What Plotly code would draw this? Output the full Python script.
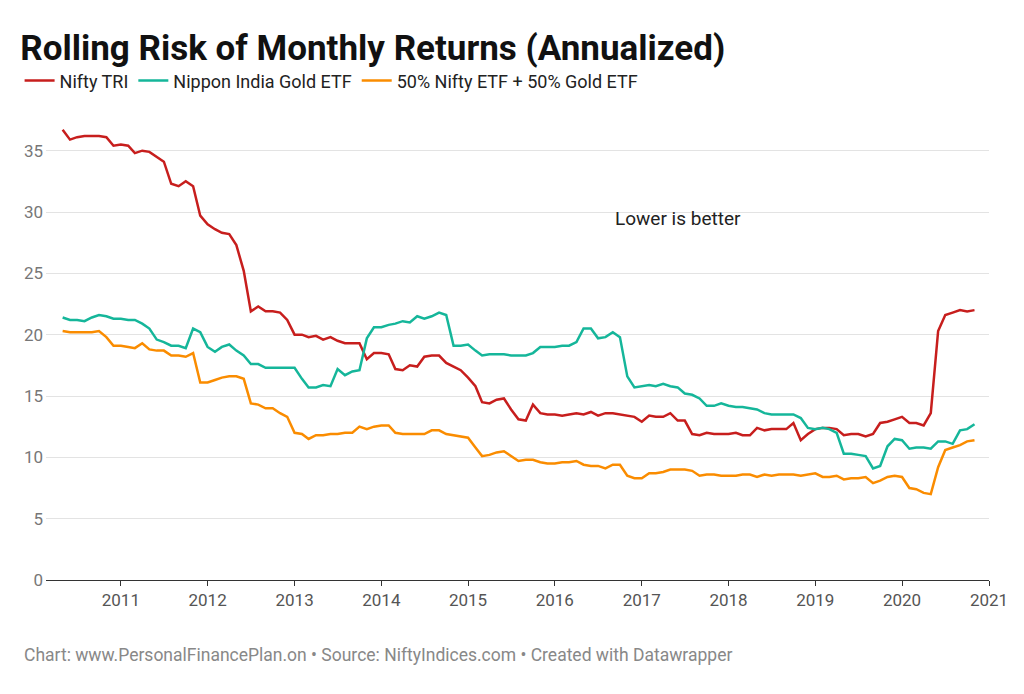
import pandas as pd
import plotly.graph_objects as go

months = pd.date_range("2010-05-01", "2020-11-01", freq="MS")

nifty_tri = [
    36.7, 35.9, 36.1, 36.2, 36.2, 36.2, 36.1, 35.4,
    35.5, 35.4, 34.8, 35.0, 34.9, 34.5, 34.1, 32.3, 32.1, 32.5, 32.1, 29.7,
    29.0, 28.6, 28.3, 28.2, 27.3, 25.2, 21.9, 22.3, 21.9, 21.9, 21.8, 21.2,
    20.0, 20.0, 19.8, 19.9, 19.6, 19.8, 19.5, 19.3, 19.3, 19.3, 18.0, 18.5,
    18.5, 18.4, 17.2, 17.1, 17.5, 17.4, 18.2, 18.3, 18.3, 17.7, 17.4, 17.1,
    16.5, 15.8, 14.5, 14.4, 14.7, 14.8, 13.9, 13.1, 13.0, 14.3, 13.6, 13.5,
    13.5, 13.4, 13.5, 13.6, 13.5, 13.7, 13.4, 13.6, 13.6, 13.5, 13.4, 13.3,
    12.9, 13.4, 13.3, 13.3, 13.6, 13.0, 13.0, 11.9, 11.8, 12.0, 11.9, 11.9,
    11.9, 12.0, 11.8, 11.8, 12.4, 12.2, 12.3, 12.3, 12.3, 12.8, 11.4, 11.9,
    12.3, 12.4, 12.4, 12.3, 11.8, 11.9, 11.9, 11.7, 11.9, 12.8, 12.9, 13.1,
    13.3, 12.8, 12.8, 12.6, 13.6, 20.3, 21.6, 21.8, 22.0, 21.9, 22.0,
]

gold_etf = [
    21.4, 21.2, 21.2, 21.1, 21.4, 21.6, 21.5, 21.3,
    21.3, 21.2, 21.2, 20.9, 20.5, 19.6, 19.4, 19.1, 19.1, 18.9, 20.5, 20.2,
    19.0, 18.6, 19.0, 19.2, 18.7, 18.3, 17.6, 17.6, 17.3, 17.3, 17.3, 17.3,
    17.3, 16.4, 15.7, 15.7, 15.9, 15.8, 17.2, 16.7, 17.0, 17.1, 19.7, 20.6,
    20.6, 20.8, 20.9, 21.1, 21.0, 21.5, 21.3, 21.5, 21.8, 21.6, 19.1, 19.1,
    19.2, 18.7, 18.3, 18.4, 18.4, 18.4, 18.3, 18.3, 18.3, 18.5, 19.0, 19.0,
    19.0, 19.1, 19.1, 19.4, 20.5, 20.5, 19.7, 19.8, 20.2, 19.8, 16.6, 15.7,
    15.8, 15.9, 15.8, 16.0, 15.8, 15.7, 15.2, 15.1, 14.8, 14.2, 14.2, 14.4,
    14.2, 14.1, 14.1, 14.0, 13.9, 13.6, 13.5, 13.5, 13.5, 13.5, 13.2, 12.4,
    12.3, 12.4, 12.3, 12.0, 10.3, 10.3, 10.2, 10.1, 9.1, 9.3, 10.9, 11.5,
    11.4, 10.7, 10.8, 10.8, 10.7, 11.3, 11.3, 11.1, 12.2, 12.3, 12.7,
]

mix_50_50 = [
    20.3, 20.2, 20.2, 20.2, 20.2, 20.3, 19.8, 19.1,
    19.1, 19.0, 18.9, 19.3, 18.8, 18.7, 18.7, 18.3, 18.3, 18.2, 18.5, 16.1,
    16.1, 16.3, 16.5, 16.6, 16.6, 16.4, 14.4, 14.3, 14.0, 14.0, 13.6, 13.3,
    12.0, 11.9, 11.5, 11.8, 11.8, 11.9, 11.9, 12.0, 12.0, 12.5, 12.3, 12.5,
    12.6, 12.6, 12.0, 11.9, 11.9, 11.9, 11.9, 12.2, 12.2, 11.9, 11.8, 11.7,
    11.6, 10.8, 10.1, 10.2, 10.4, 10.5, 10.1, 9.7, 9.8, 9.8, 9.6, 9.5,
    9.5, 9.6, 9.6, 9.7, 9.4, 9.3, 9.3, 9.1, 9.4, 9.4, 8.5, 8.3,
    8.3, 8.7, 8.7, 8.8, 9.0, 9.0, 9.0, 8.9, 8.5, 8.6, 8.6, 8.5,
    8.5, 8.5, 8.6, 8.6, 8.4, 8.6, 8.5, 8.6, 8.6, 8.6, 8.5, 8.6,
    8.7, 8.4, 8.4, 8.5, 8.2, 8.3, 8.3, 8.4, 7.9, 8.1, 8.4, 8.5,
    8.4, 7.5, 7.4, 7.1, 7.0, 9.2, 10.6, 10.8, 11.0, 11.3, 11.4,
]

series = [
    ("Nifty TRI", nifty_tri, "#c71e1d"),
    ("Nippon India Gold ETF", gold_etf, "#15b69a"),
    ("50% Nifty ETF + 50% Gold ETF", mix_50_50, "#fa8c00"),
]

fig = go.Figure()
for name, vals, col in series:
    fig.add_trace(go.Scatter(x=months, y=vals, mode="lines", name=name,
                             line=dict(color=col, width=2.5)))

fig.add_annotation(x="2016-09-01", y=29.5, text="Lower is better", showarrow=False,
                   xanchor="left", font=dict(size=19, color="#222"))

fig.update_layout(
    width=1024, height=694,
    paper_bgcolor="white", plot_bgcolor="white",
    font=dict(family="Roboto", color="#333"),
    margin=dict(l=38, r=43, t=112, b=122),
    title=dict(text="<b>Rolling Risk of Monthly Returns (Annualized)</b>",
               x=0.012, xanchor="left", y=0.943, yanchor="middle",
               font=dict(size=35, color="#111")),
    legend=dict(orientation="h", x=-0.028, xanchor="left", y=1.085, yanchor="middle",
                font=dict(size=18, color="#222"), itemwidth=30, tracegroupgap=0),
    xaxis=dict(range=["2010-02-20", "2021-01-01"], tickvals=[f"{y}-01-01" for y in range(2011, 2022)],
               ticktext=[str(y) for y in range(2011, 2022)], showgrid=False,
               tickfont=dict(size=17, color="#555"), ticks="outside", ticklen=5,
               tickcolor="#333", showline=True, linecolor="#333", linewidth=1),
    yaxis=dict(range=[0, 37.5], tickvals=[0, 5, 10, 15, 20, 25, 30, 35],
               gridcolor="#e3e3e3", zeroline=False, tickfont=dict(size=17, color="#777"),
               ticklabelstandoff=2),
)

fig.add_annotation(xref="paper", yref="paper", x=-0.025, y=-0.19, xanchor="left",
                   showarrow=False, align="left",
                   text="Chart: www.PersonalFinancePlan.on • Source: NiftyIndices.com • Created with Datawrapper",
                   font=dict(size=17.5, color="#888"))

fig.write_html("out.html")
